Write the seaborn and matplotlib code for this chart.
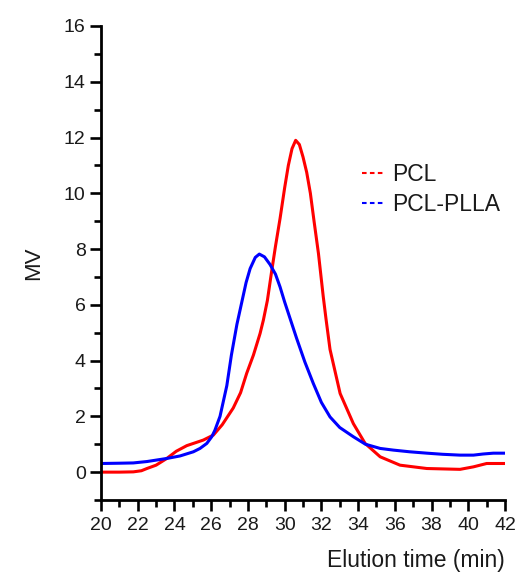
import numpy as np
import pandas as pd
import matplotlib
matplotlib.use("Agg")
import matplotlib.pyplot as plt
import seaborn as sns

# PCL (red)
pcl_x = [20, 21, 21.76, 22.2, 22.5, 23, 23.58, 24.1, 24.67, 25.03, 25.57, 26.12, 26.6, 27.2, 27.6, 27.93, 28.3,
         28.66, 28.84, 29.06, 29.3, 29.5, 29.75, 30.0, 30.2, 30.4, 30.6, 30.8, 31.0, 31.2, 31.4, 31.6, 31.84, 32.1,
         32.25, 32.47, 33.02, 33.74, 34.38, 35.2, 36.28, 37.74, 39.55, 40.28, 41, 42]
pcl_y = [0.0, 0.0, 0.01, 0.05, 0.13, 0.25, 0.49, 0.75, 0.95, 1.03, 1.15, 1.33, 1.7, 2.3, 2.85, 3.54, 4.2,
         4.97, 5.45, 6.16, 7.24, 8.1, 9.1, 10.2, 11.0, 11.6, 11.9, 11.75, 11.3, 10.75, 10.0, 9.0, 7.84, 6.3,
         5.5, 4.4, 2.82, 1.74, 1.03, 0.55, 0.25, 0.13, 0.1, 0.19, 0.31, 0.31]

# PCL-PLLA (blue)
plla_x = [20, 21, 21.76, 22.5, 23.58, 24.3, 25.03, 25.39, 25.76, 26.03, 26.2, 26.48, 26.85, 27.1, 27.4, 27.7,
          27.9, 28.12, 28.4, 28.62, 28.9, 29.2, 29.5, 29.75, 30.0, 30.3, 30.65, 31.1, 31.56, 32.0, 32.47, 33.0,
          33.74, 34.4, 35.2, 35.92, 36.8, 37.75, 38.6, 39.55, 40.28, 40.8, 41.36, 42]
plla_y = [0.31, 0.32, 0.33, 0.38, 0.49, 0.58, 0.73, 0.85, 1.03, 1.27, 1.5, 2.0, 3.1, 4.2, 5.3, 6.2,
          6.8, 7.3, 7.7, 7.82, 7.72, 7.45, 7.1, 6.64, 6.1, 5.5, 4.8, 3.95, 3.18, 2.5, 1.98, 1.6,
          1.27, 1.0, 0.85, 0.79, 0.73, 0.68, 0.64, 0.61, 0.61, 0.65, 0.68, 0.68]

series_names = ["PCL", "PCL-PLLA"]
colors = ["#ff0000", "#0000ff"]

df = pd.concat([
    pd.DataFrame({"t": pcl_x, "mv": pcl_y, "s": series_names[0]}),
    pd.DataFrame({"t": plla_x, "mv": plla_y, "s": series_names[1]}),
])

sns.set_style("ticks")
plt.rcParams['font.family'] = ['Liberation Sans', 'DejaVu Sans']
plt.rcParams['text.color'] = 'black'
plt.rcParams['axes.labelcolor'] = 'black'

fig = plt.figure(figsize=(5.18, 5.75), dpi=100)
ax = fig.add_axes([0.195, 0.1304, 0.78, 0.8244])

sns.lineplot(data=df, x="t", y="mv", hue="s", palette=dict(zip(series_names, colors)),
             linewidth=2.2, ax=ax, sort=False, estimator=None,
             solid_joinstyle='round', solid_capstyle='round')

ax.set_xlim(20, 42)
ax.set_ylim(-1, 16)
ax.set_xticks(np.arange(20, 43, 2))
ax.set_yticks(np.arange(0, 17, 2))
ax.set_xticks(np.arange(21, 42, 2), minor=True)
ax.set_yticks(np.arange(-1, 16, 2), minor=True)
ax.tick_params(axis='both', which='major', length=8, width=1.9, direction='out', labelsize=14,
               colors='black', labelcolor='#1a1a1a')
ax.tick_params(axis='both', which='minor', length=5, width=1.9, direction='out', colors='black')
ax.tick_params(axis='x', which='major', pad=4)
ax.tick_params(axis='y', which='major', pad=3)
for sp in ["top", "right"]:
    ax.spines[sp].set_visible(False)
for sp in ["left", "bottom"]:
    ax.spines[sp].set_linewidth(2.0)
    ax.spines[sp].set_color('black')

ax.set_xlabel("Elution time (min)", fontsize=16.5, loc='right', labelpad=11, color='#1a1a1a')
ax.set_ylabel("MV", fontsize=16, labelpad=14, color='#1a1a1a')

handles, labels = ax.get_legend_handles_labels()
for h in handles:
    h.set_linestyle((0, (2.2, 1.6)))
    h.set_linewidth(1.5)
leg = ax.legend(handles, labels, loc='center left', bbox_to_anchor=(0.645, 0.655), frameon=False,
                fontsize=16.5, handlelength=1.0, handletextpad=0.35, labelspacing=0.3,
                borderaxespad=0, borderpad=0)
for t in leg.get_texts():
    t.set_color('#1a1a1a')

fig.savefig("out.png", dpi=100, facecolor='white')
